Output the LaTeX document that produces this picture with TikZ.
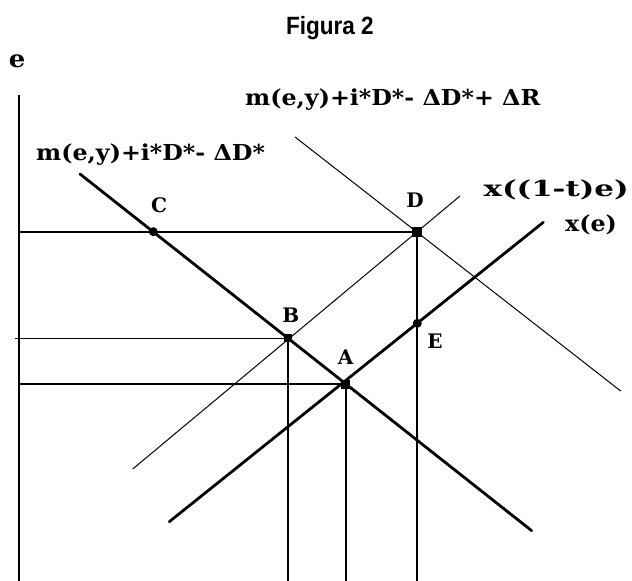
\documentclass[tikz,border=0pt]{standalone}
\usepackage{fontspec}
\setmainfont{DejaVu Serif}
\newfontfamily\titlefont{Liberation Sans}
\begin{document}
\begin{tikzpicture}[x=1pt,y=-1pt,
  axisline/.style={line width=2pt},
  guide/.style={line width=1.6pt},
  heavy/.style={line width=2.8pt, line cap=round},
  light/.style={line width=1pt},
  lbl/.style={font=\bfseries\fontsize{22}{24}\selectfont, inner sep=0pt, xscale=1.08},
  ptlbl/.style={font=\bfseries\fontsize{20}{22}\selectfont, inner sep=0pt},
  dotm/.style={circle, fill, inner sep=0pt, minimum size=9pt},
  sqm/.style={rectangle, fill, inner sep=0pt, minimum size=9pt}]
\useasboundingbox (0,0) rectangle (632,581);
% coordinates
\coordinate (axTop) at (19,95);
\coordinate (axBot) at (19,581);
\coordinate (m1a) at (80,174);
\coordinate (m1b) at (531.7,530.7);
\coordinate (m2a) at (295,137);
\coordinate (m2b) at (620.7,391);
\coordinate (xa) at (169.3,521.7);
\coordinate (xb) at (543.3,222.3);
\coordinate (xta) at (132.7,469);
\coordinate (xtb) at (460,196);
\coordinate (C) at (153.3,231.7);
\coordinate (D) at (416.7,231.7);
\coordinate (B) at (287.7,338.3);
\coordinate (A) at (345.7,384);
\coordinate (E) at (417.3,323.3);
\coordinate (hC) at (19,231.7);
\coordinate (hB) at (15,338.3);
\coordinate (hA) at (19,384);
\coordinate (vB) at (287.7,581);
\coordinate (vA) at (345.7,581);
\coordinate (vD) at (416.7,581);
% axis
\draw[axisline] (axTop) -- (axBot);
% guides
\draw[guide] (hC) -- (D);
\draw[guide] (hB) -- (B);
\draw[guide] (hA) -- (A);
\draw[guide] (B) -- (vB);
\draw[guide] (A) -- (vA);
\draw[guide] (D) -- (vD);
% curves
\draw[light] (m2a) -- (m2b);
\draw[light] (xta) -- (xtb);
\draw[heavy] (m1a) -- (m1b);
\draw[heavy] (xa) -- (xb);
% markers
\node[dotm] (Cm) at (C) {};
\node[sqm, minimum size=10pt] (Dm) at (D) {};
\node[sqm, minimum size=8pt] (Bm) at (B) {};
\node[sqm] (Am) at (A) {};
\node[dotm] (Em) at (E) {};
% point labels
\node[ptlbl] (Cl) at (159,205) {C};
\node[ptlbl] (Dl) at (415,200) {D};
\node[ptlbl] (Bl) at (290.7,315) {B};
\node[ptlbl] (Al) at (345.7,357) {A};
\node[ptlbl] (El) at (435,341.7) {E};
% curve labels
\node[lbl, font=\bfseries\fontsize{24}{26}\selectfont] (el) at (17,61) {e};
\node[lbl, anchor=west] (lm2) at (245,100) {m(e,y)+i*D*- ΔD*+ ΔR};
\node[lbl, anchor=west] (lm1) at (36,155) {m(e,y)+i*D*- ΔD*};
\node[lbl, anchor=east, xscale=1.3] (lxt) at (629,190) {x((1-t)e)};
\node[lbl, anchor=west] (lx) at (565,225) {x(e)};
% title
\node[font=\titlefont\bfseries\fontsize{25}{27}\selectfont, inner sep=0pt, xscale=0.9] (title) at (330,28) {Figura 2};
\end{tikzpicture}
\end{document}
